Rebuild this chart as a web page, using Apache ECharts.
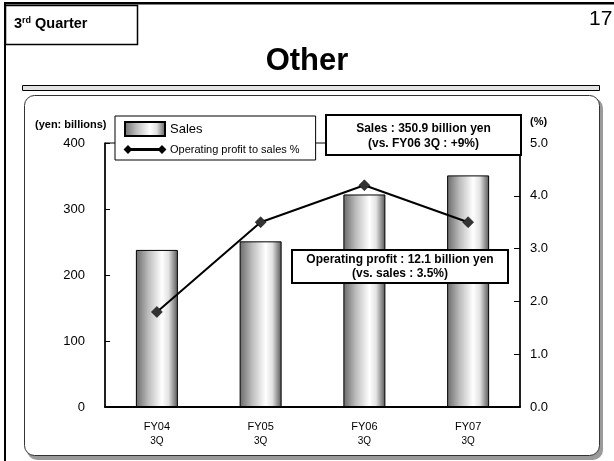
<!DOCTYPE html>
<html>
<head>
<meta charset="utf-8">
<script src="https://cdn.jsdelivr.net/npm/echarts@6/dist/echarts.min.js"></script>
<style>
html,body{margin:0;padding:0;background:#fff;}
#chart{width:614px;height:461px;}
</style>
</head>
<body>
<div id="chart"></div>
<script>
var categories = ['FY04', 'FY05', 'FY06', 'FY07'];
var periodLabels = ['3Q', '3Q', '3Q', '3Q'];
var salesValues = [238, 251, 322, 350.9];
var marginValues = [1.8, 3.5, 4.2, 3.5];
var leftTicks = [0, 100, 200, 300, 400];
var rightTicks = [0.0, 1.0, 2.0, 3.0, 4.0, 5.0];
var salesName = 'Sales';
var marginName = 'Operating profit to sales %';
var salesNote = ['Sales : 350.9 billion yen', '(vs. FY06 3Q : +9%)'];
var profitNote = ['Operating profit : 12.1 billion yen', '(vs. sales : 3.5%)'];

var FONT = '"Liberation Sans", Arial, sans-serif';
var chart = echarts.init(document.getElementById('chart'), null, {renderer: 'canvas'});

var barGradient = new echarts.graphic.LinearGradient(0, 0, 1, 0, [
  {offset: 0, color: '#6a6a6a'},
  {offset: 0.3, color: '#bdbdbd'},
  {offset: 0.62, color: '#ffffff'},
  {offset: 0.78, color: '#e2e2e2'},
  {offset: 1, color: '#555555'}
]);

var xLabels = categories.map(function (c, i) { return c + '\n' + periodLabels[i]; });

var option = {
  backgroundColor: '#fff',
  animation: false,
  textStyle: {fontFamily: FONT},
  grid: {
    left: 105, right: 94, top: 143, bottom: 54,
    show: true, borderColor: '#000', borderWidth: 1, backgroundColor: 'transparent'
  },
  legend: {
    orient: 'vertical',
    left: 115, top: 116,
    padding: [5, 16, 5, 9],
    itemGap: 7,
    itemWidth: 40, itemHeight: 14,
    symbolKeepAspect: true,
    backgroundColor: '#fff',
    borderColor: '#000', borderWidth: 1,
    textStyle: {fontFamily: FONT, color: '#000'},
    data: [
      {name: salesName, icon: 'rect', textStyle: {fontSize: 13}},
      {name: marginName, icon: 'path://M0,3L3,0L6,3L3,6Z M3,2.6H37V3.4H3Z M34,3L37,0L40,3L37,6Z', textStyle: {fontSize: 11}}
    ]
  },
  xAxis: {
    type: 'category',
    data: xLabels,
    axisLine: {lineStyle: {color: '#000', width: 2}},
    axisTick: {inside: true, length: 5, lineStyle: {color: '#000'}},
    axisLabel: {
      margin: 12,
      color: '#000',
      formatter: function (v) {
        var p = v.split('\n');
        return '{a|' + p[0] + '}\n{b|' + p[1] + '}';
      },
      rich: {
        a: {fontSize: 11, fontFamily: FONT, color: '#000', lineHeight: 15},
        b: {fontSize: 10, fontFamily: FONT, color: '#000', lineHeight: 14}
      }
    }
  },
  yAxis: [
    {
      type: 'value', min: leftTicks[0], max: leftTicks[leftTicks.length - 1], interval: 100,
      position: 'left',
      axisLine: {show: true, lineStyle: {color: '#000', width: 1.5}},
      axisTick: {show: true, inside: true, length: 5, lineStyle: {color: '#000'}},
      axisLabel: {color: '#000', fontSize: 13, margin: 20, fontFamily: FONT},
      splitLine: {show: false}
    },
    {
      type: 'value', min: rightTicks[0], max: rightTicks[rightTicks.length - 1], interval: 1,
      position: 'right',
      axisLine: {show: true, lineStyle: {color: '#000', width: 1.5}},
      axisTick: {show: true, inside: true, length: 6, lineStyle: {color: '#000'}},
      axisLabel: {color: '#000', fontSize: 13, margin: 10, fontFamily: FONT,
        formatter: function (v) { return v.toFixed(1); }},
      splitLine: {show: false}
    }
  ],
  series: [
    {
      name: salesName,
      type: 'bar',
      data: salesValues,
      barWidth: 42,
      itemStyle: {color: barGradient, borderColor: '#000', borderWidth: 1}
    },
    {
      name: marginName,
      type: 'line',
      yAxisIndex: 1,
      data: marginValues,
      symbol: 'diamond',
      symbolSize: 11,
      lineStyle: {color: '#000', width: 2},
      itemStyle: {color: '#333', borderColor: '#000', borderWidth: 0.5},
      z: 5
    }
  ],
  graphic: [
    // page frame lines
    {type: 'rect', z: -10, shape: {x: 4, y: 2, width: 612, height: 2.5}, style: {fill: '#000'}},
    {type: 'rect', z: -10, shape: {x: 4, y: 2, width: 2, height: 462}, style: {fill: '#000'}},
    // section box
    {type: 'rect', z: -10, shape: {x: 5.5, y: 5.5, width: 132, height: 39}, style: {fill: '#fff', stroke: '#000', lineWidth: 1.5}},
    {type: 'text', z: -9, left: 14, top: 16, style: {
      text: '{n|3}{s|rd}{n| Quarter}', fill: '#000',
      rich: {
        n: {fontSize: 14.5, fontWeight: 'bold', fontFamily: FONT, fill: '#000', verticalAlign: 'bottom'},
        s: {fontSize: 9, fontWeight: 'bold', fontFamily: FONT, fill: '#000', verticalAlign: 'top', padding: [0, 0, 6, 0]}
      }
    }},
    {type: 'text', z: -9, left: 589, top: 9, style: {text: '17', fontSize: 21, fontFamily: FONT, fill: '#000'}},
    {type: 'text', z: -9, left: 'center', top: 46, style: {text: 'Other', fontSize: 31, fontWeight: 'bold', fontFamily: FONT, fill: '#000'}},
    // separator
    {type: 'rect', z: -10, shape: {x: 22.5, y: 85.5, width: 577, height: 5}, style: {fill: '#e2e2e2', stroke: '#000', lineWidth: 1}},
    // panel shadow + panel
    {type: 'rect', z: -10, shape: {x: 27, y: 98, width: 576, height: 362, r: 10}, style: {fill: '#9a9a9a'}},
    {type: 'rect', z: -9, shape: {x: 24.5, y: 95.5, width: 575, height: 360, r: 10}, style: {fill: '#fff', stroke: '#333', lineWidth: 1}},
    // axis names
    {type: 'text', z: 10, left: 35, top: 119, style: {text: '(yen: billions)', fontSize: 11, fontWeight: 'bold', fontFamily: FONT, fill: '#000'}},
    {type: 'text', z: 10, left: 530, top: 116, style: {text: '(%)', fontSize: 11, fontWeight: 'bold', fontFamily: FONT, fill: '#000'}},
    // sales note
    {type: 'rect', z: 10, shape: {x: 326, y: 115, width: 195, height: 40}, style: {fill: '#fff', stroke: '#000', lineWidth: 2}},
    {type: 'text', z: 11, x: 423.5, y: 121, style: {text: salesNote.join('\n'), align: 'center', fontSize: 12, fontWeight: 'bold', lineHeight: 15, fontFamily: FONT, fill: '#000'}},
    // profit note
    {type: 'rect', z: 10, shape: {x: 292, y: 250, width: 216, height: 33}, style: {fill: '#fff', stroke: '#000', lineWidth: 2}},
    {type: 'text', z: 11, x: 400, y: 252, style: {text: profitNote.join('\n'), align: 'center', fontSize: 12, fontWeight: 'bold', lineHeight: 14.5, fontFamily: FONT, fill: '#000'}}
  ]
};
chart.setOption(option);
</script>
</body>
</html>
